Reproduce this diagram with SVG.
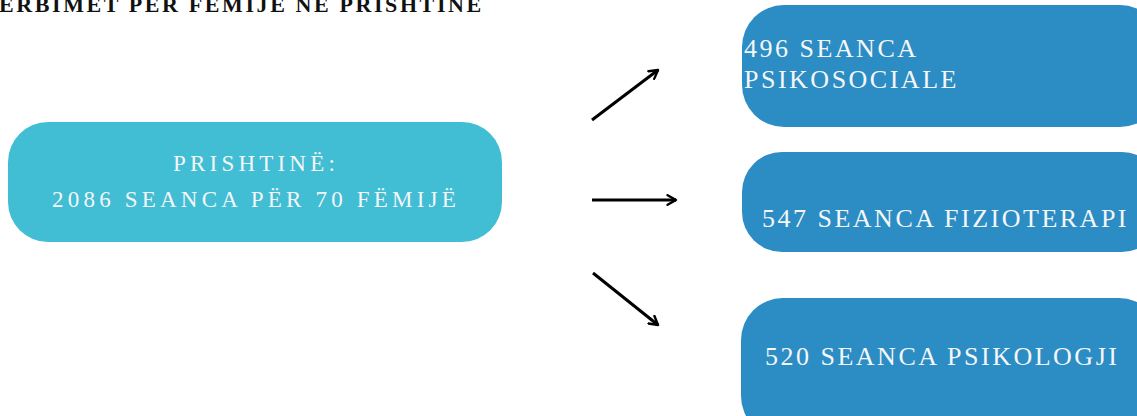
<svg xmlns="http://www.w3.org/2000/svg" width="1137" height="416" viewBox="0 0 1137 416">
  <style>
    .title { font-family: "Liberation Serif", "Times New Roman", serif; font-weight: bold; font-size: 22px; letter-spacing: 2.6px; fill: #111111; }
    .lbl { font-family: "Liberation Serif", "Times New Roman", serif; fill: #F4F6F8; }
    .lbl-l { font-size: 23px; letter-spacing: 4.2px; }
    .lbl-r { font-size: 26px; letter-spacing: 2.5px; }
    .src { fill: #41BDD4; }
    .dst { fill: #2C8CC4; }
    .conn { stroke: #000000; stroke-width: 3; fill: none; marker-end: url(#arrow); }
  </style>
  <defs>
    <marker id="arrow" viewBox="0 0 10 10" refX="8" refY="5" markerWidth="4" markerHeight="4" orient="auto" markerUnits="strokeWidth">
      <path d="M1,1 L8,5 L1,9" fill="none" stroke="#000000" stroke-width="2" stroke-linecap="round" stroke-linejoin="round"/>
    </marker>
  </defs>
  <rect width="1137" height="416" fill="#FFFFFF"/>
  <text class="title" x="-1" y="12">ERBIMET PËR FËMIJË NË PRISHTINË</text>

  <g id="node-prishtine">
    <rect class="src" x="8" y="122" width="494" height="120" rx="40" ry="40"/>
    <text class="lbl lbl-l" x="256" y="171" text-anchor="middle">PRISHTINË:</text>
    <text class="lbl lbl-l" x="256" y="207" text-anchor="middle">2086 SEANCA PËR 70 FËMIJË</text>
  </g>

  <g id="node-psikosociale">
    <rect class="dst" x="742" y="5" width="420" height="122" rx="42" ry="42"/>
    <text class="lbl lbl-r" x="744" y="57">496 SEANCA</text>
    <text class="lbl lbl-r" x="744" y="88">PSIKOSOCIALE</text>
  </g>

  <g id="node-fizioterapi">
    <rect class="dst" x="742" y="152" width="420" height="100" rx="40" ry="40"/>
    <text class="lbl lbl-r" x="762" y="227">547 SEANCA FIZIOTERAPI</text>
  </g>

  <g id="node-psikologji">
    <rect class="dst" x="741" y="298" width="420" height="140" rx="42" ry="42"/>
    <text class="lbl lbl-r" x="765" y="365">520 SEANCA PSIKOLOGJI</text>
  </g>

  <g id="connectors">
    <line class="conn" x1="592" y1="120" x2="658" y2="70"/>
    <line class="conn" x1="592" y1="200" x2="676" y2="200"/>
    <line class="conn" x1="593" y1="273" x2="658" y2="325"/>
  </g>
</svg>
